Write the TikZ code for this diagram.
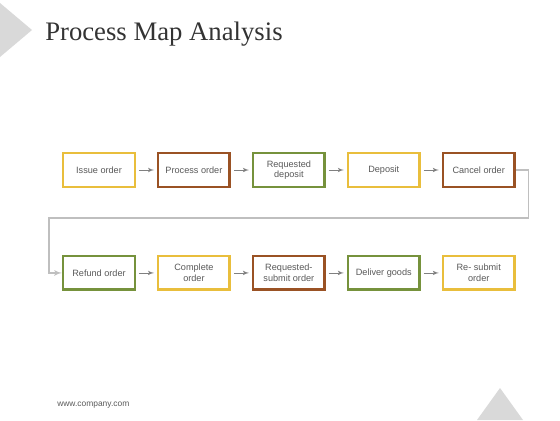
\documentclass[tikz,border=0pt]{standalone}
\usepackage{fontspec}
\setmainfont{Liberation Serif}
\setsansfont{Liberation Sans}
\usetikzlibrary{positioning,arrows,calc}
\definecolor{yellowbox}{HTML}{E9BE3C}
\definecolor{brownbox}{HTML}{9A5224}
\definecolor{greenbox}{HTML}{76923C}
\definecolor{boxtext}{HTML}{595959}
\definecolor{titletext}{HTML}{333333}
\definecolor{triangle}{HTML}{D9D9D9}
\tikzset{
step box/.style = {draw=#1, line width=1.8pt, fill=white, align=center, rectangle,
  minimum width=1.79cm, minimum height=0.84cm, inner sep=1pt, text=boxtext,
  font={\sffamily\fontsize{6.5}{7.6}\selectfont}},
flow/.style = {->, draw=gray, line width=0.5pt, shorten >=2pt, shorten <=2pt},
back line/.style = {->, draw=black!25, line width=0.9pt}
}

\begin{document}
\begin{tikzpicture}[node distance = 1.67cm and 0.52cm, >=latex']

	\useasboundingbox (0,0) rectangle (14,-10.5);
	\fill[triangle] (0,-0.075) -- (0.8,-0.75) -- (0,-1.425) -- cycle;
	\fill[triangle] (11.925,-10.5) -- (12.5,-9.7) -- (13.075,-10.5) -- cycle;

	\node[anchor=base west, inner sep=0pt, text=titletext, font={\fontsize{19}{22}\selectfont}] (title) at (1.125,-1.02) {Process Map Analysis};

	\node[step box=yellowbox] (issue) at (2.475,-4.25) {Issue order};
	\node[step box=brownbox, right =of issue] (process) {Process order};
	\node[step box=greenbox, right =of process] (reqdep) {Requested\\deposit};
	\node[step box=yellowbox, right =of reqdep] (deposit) {Deposit};
	\node[step box=brownbox, right =of deposit] (cancel) {Cancel order};

	\node[step box=greenbox, below =of issue] (refund) {Refund order};
	\node[step box=yellowbox, right =of refund] (complete) {Complete\\order};
	\node[step box=brownbox, right =of complete] (reqsub) {Requested-\\submit order};
	\node[step box=greenbox, right =of reqsub] (deliver) {Deliver goods};
	\node[step box=yellowbox, right =of deliver] (resub) {Re- submit\\order};

	\draw[flow] (issue) -- (process);
	\draw[flow] (process) -- (reqdep);
	\draw[flow] (reqdep) -- (deposit);
	\draw[flow] (deposit) -- (cancel);
	\draw[flow] (refund) -- (complete);
	\draw[flow] (complete) -- (reqsub);
	\draw[flow] (reqsub) -- (deliver);
	\draw[flow] (deliver) -- (resub);
	\draw[back line] (cancel.east) -- ++(0.325,0) -- ++(0,-1.2) -| ($(refund.west)+(-0.325,0)$) -- (refund.west);

	\node[anchor=base west, inner sep=0pt, text=boxtext, font={\sffamily\fontsize{6}{7}\selectfont}] (footer) at (1.425,-10.17) {www.company.com};

\end{tikzpicture}
\end{document}
